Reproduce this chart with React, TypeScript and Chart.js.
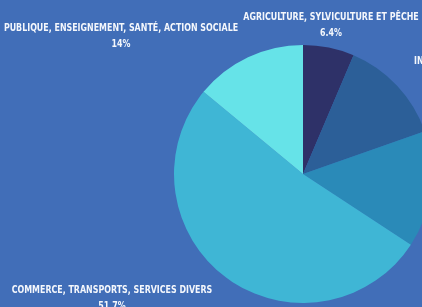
import React, { useEffect, useRef } from "react";
import { Chart, registerables } from "chart.js";

Chart.register(...registerables);

const categories = [
  "AGRICULTURE, SYLVICULTURE ET PÊCHE",
  "INDUSTRIE",
  "CONSTRUCTION",
  "COMMERCE, TRANSPORTS, SERVICES DIVERS",
  "PUBLIQUE, ENSEIGNEMENT, SANTÉ, ACTION SOCIALE",
];
const values = [6.4, 13.2, 14.6, 51.7, 14];
const valueLabels = ["6.4%", "13.2%", "14.6%", "51.7%", "14%"];

const colors = ["#2E3168", "#2C5F98", "#2A8AB8", "#3FB6D5", "#66E3E8"];
const BG = "#416EB8";
const FONT = "bold 10px 'Liberation Sans Narrow', 'DejaVu Sans Condensed', sans-serif";
const SQUEEZE = 0.88;

// label anchor positions (canvas px), layout only
const labelAnchors: [number, number][] = [
  [331, 17],
  [438, 61],
  [470, 262],
  [112, 290],
  [121, 28],
];

const labelPlugin = {
  id: "outerLabels",
  afterDatasetsDraw(chart: any) {
    const ctx = chart.ctx;
    ctx.save();
    ctx.font = FONT;
    ctx.fillStyle = "#F4F7FC";
    ctx.textAlign = "center";
    ctx.textBaseline = "middle";
    const draw = (t: string, x: number, y: number) => {
      ctx.save();
      ctx.translate(x, y);
      ctx.scale(SQUEEZE, 1);
      ctx.fillText(t, 0, 0);
      ctx.restore();
    };
    categories.forEach((c, i) => {
      const [x, y] = labelAnchors[i];
      draw(c, x, y);
      draw(valueLabels[i], x, y + 16);
    });
    ctx.restore();
  },
};

export default function App() {
  const ref = useRef<HTMLCanvasElement>(null);
  useEffect(() => {
    document.body.style.margin = "0";
    const chart = new Chart(ref.current!, {
      type: "pie",
      data: {
        labels: categories,
        datasets: [
          {
            data: values,
            backgroundColor: colors,
            borderWidth: 0,
          },
        ],
      },
      options: {
        animation: false,
        responsive: false,
        devicePixelRatio: 1,
        layout: { padding: { left: 174, right: 168, top: 45, bottom: 4 } },
        plugins: {
          legend: { display: false },
          tooltip: { enabled: false },
        },
      },
      plugins: [labelPlugin],
    });
    return () => chart.destroy();
  }, []);
  return (
    <div
      style={{
        position: "fixed",
        left: 0,
        top: 0,
        width: 422,
        height: 307,
        overflow: "hidden",
        background: BG,
      }}
    >
      <canvas ref={ref} width={600} height={307} style={{ width: 600, height: 307 }} />
    </div>
  );
}
